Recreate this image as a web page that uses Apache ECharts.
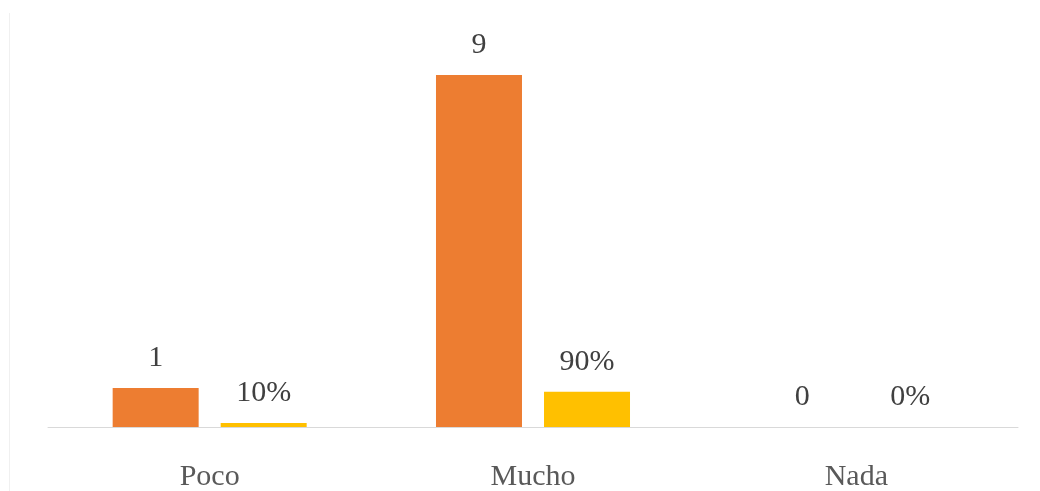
<!DOCTYPE html>
<html>
<head>
<meta charset="utf-8">
<script src="https://cdn.jsdelivr.net/npm/echarts@6/dist/echarts.min.js"></script>
<style>
  html, body { margin: 0; padding: 0; background: #fff; }
  #chart { width: 1040px; height: 491px; }
</style>
</head>
<body>
<div id="chart"></div>
<script>
// Response categories
const categories = ['Poco', 'Mucho', 'Nada'];
// Number of respondents per answer
const counts = [1, 9, 0];
// Share of respondents per answer (fraction of total)
const shares = [0.10, 0.90, 0.00];

const labelFont = 'Liberation Serif, Times New Roman, serif';

const chart = echarts.init(document.getElementById('chart'), null, { renderer: 'canvas' });

chart.setOption({
  animation: false,
  backgroundColor: '#ffffff',
  grid: { left: 48, right: 22, top: 36, bottom: 64, containLabel: false, outerBoundsMode: 'none' },
  graphic: [{
    type: 'line',
    shape: { x1: 9.5, y1: 13, x2: 9.5, y2: 491 },
    style: { stroke: '#f0f0f0', lineWidth: 1 }
  }],
  xAxis: {
    type: 'category',
    data: categories,
    axisLine: { lineStyle: { color: '#d9d9d9', width: 1 } },
    axisTick: { show: false },
    axisLabel: {
      color: '#595959',
      fontFamily: labelFont,
      fontSize: 30,
      margin: 35
    }
  },
  yAxis: {
    type: 'value',
    min: 0,
    max: 10,
    show: false,
    splitLine: { show: false }
  },
  series: [
    {
      name: 'Frecuencia',
      type: 'bar',
      data: counts,
      barWidth: 86,
      barGap: '25.6%',
      itemStyle: { color: '#ED7D31' },
      label: {
        show: true,
        position: 'top',
        distance: 15,
        color: '#404040',
        fontFamily: labelFont,
        fontSize: 30,
        formatter: p => String(p.value)
      }
    },
    {
      name: 'Porcentaje',
      type: 'bar',
      data: shares,
      barWidth: 86,
      itemStyle: { color: '#FFC000' },
      label: {
        show: true,
        position: 'top',
        distance: 15,
        color: '#404040',
        fontFamily: labelFont,
        fontSize: 30,
        formatter: p => Math.round(p.value * 100) + '%'
      }
    }
  ]
});
</script>
</body>
</html>
